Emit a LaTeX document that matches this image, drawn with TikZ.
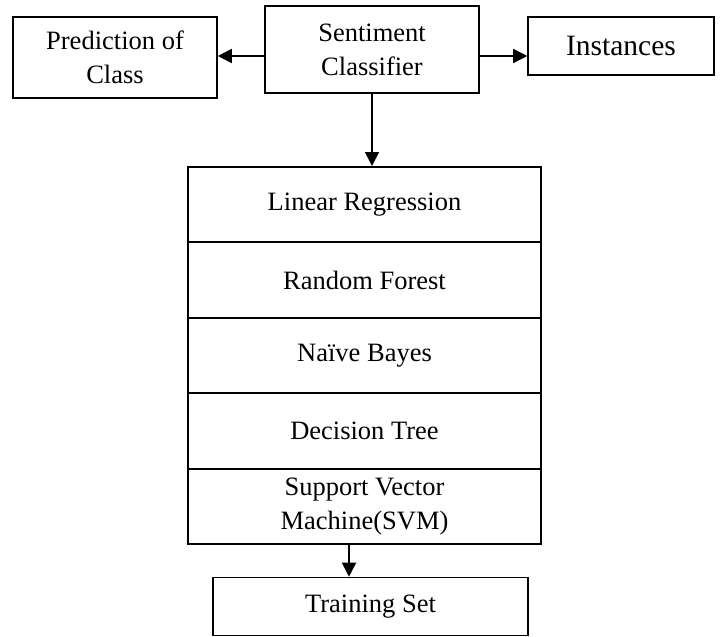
\documentclass[tikz,border=0pt]{standalone}
\usepackage{fontspec}
\setmainfont{Liberation Serif}
\usetikzlibrary{arrows.meta}
\begin{document}
\begin{tikzpicture}[x=1pt,y=-1pt,
  box/.style={draw,line width=1.6pt,rectangle,inner sep=0pt,align=center,
    font=\fontsize{26.5}{34}\selectfont},
  arr/.style={line width=1.6pt,-{Triangle[length=14pt,width=14pt]}}]
\useasboundingbox (0,0) rectangle (720,637);
\node[box,minimum width=204pt,minimum height=81pt] (pred) at (115,57.5) {Prediction of\\Class};
\node[box,minimum width=214pt,minimum height=87pt] (sent) at (372,49.5) {Sentiment\\Classifier};
\node[box,minimum width=186pt,minimum height=58pt,font=\fontsize{29.5}{36}\selectfont] (inst) at (621,46) {Instances};
\node[box,minimum width=353pt,minimum height=75.4pt] (lr) at (364.5,204.5) {Linear Regression};
\node[box,minimum width=353pt,minimum height=75.4pt] (rf) at (364.5,280) {Random Forest};
\node[box,minimum width=353pt,minimum height=75.4pt] (nb) at (364.5,355.5) {Naïve Bayes};
\node[box,minimum width=353pt,minimum height=75.4pt] (dt) at (364.5,431) {Decision Tree};
\node[box,minimum width=353pt,minimum height=75.4pt] (svm) at (364.5,506.5) {Support Vector\\Machine(SVM)};
\node[box,minimum width=315pt,minimum height=58pt] (ts) at (370.5,606.5) {Training Set};
\coordinate (ya) at (0,56);
\coordinate (xb) at (349,0);
\draw[arr] (sent.west |- ya) -- (pred.east |- ya);
\draw[arr] (sent.east |- ya) -- (inst.west |- ya);
\draw[arr] (sent.south) -- (sent.south |- lr.north);
\draw[arr] (svm.south -| xb) -- (ts.north -| xb);
\end{tikzpicture}
\end{document}
